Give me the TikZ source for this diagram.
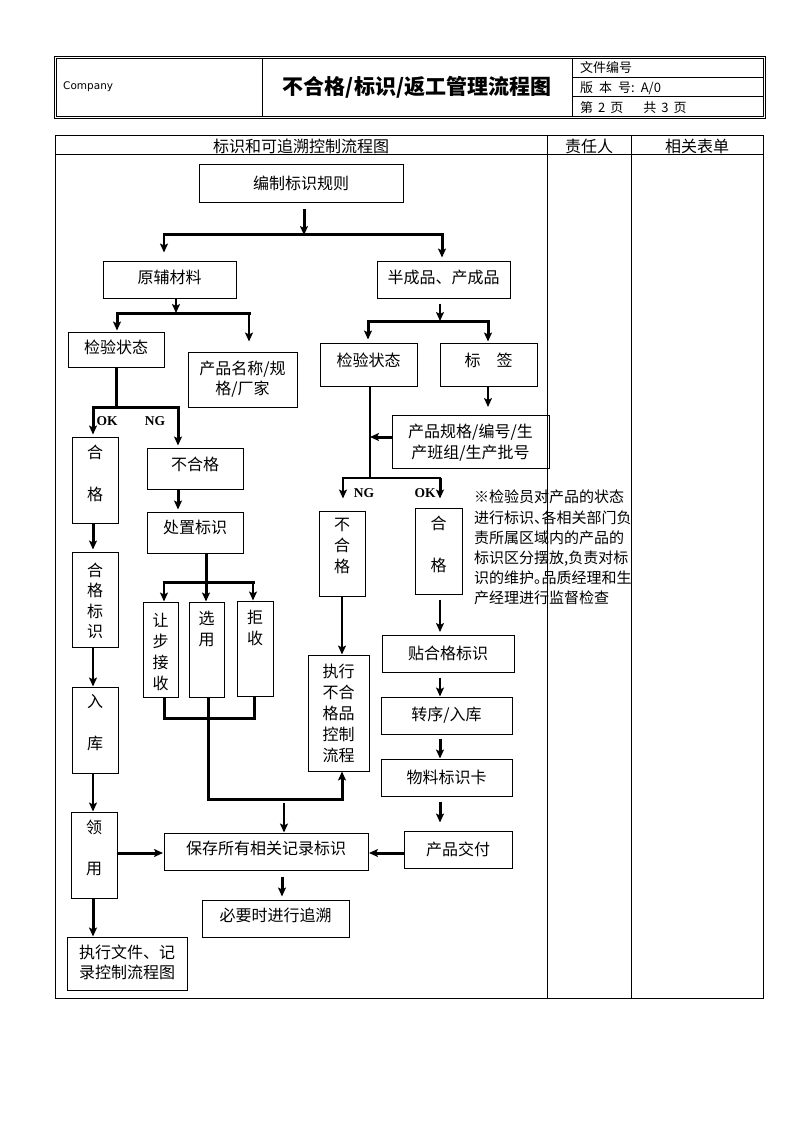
\documentclass[tikz,border=0pt]{standalone}
\usepackage{fontspec}
\setmainfont{Noto Sans CJK SC}
\newfontfamily\dvs{DejaVu Sans}
\newfontfamily\tnr{Liberation Serif}
\usetikzlibrary{arrows.meta,calc}
\newcommand\fs{\fontsize{16pt}{21pt}\selectfont}
\newcommand\flbox[7]{\node[box, minimum width={(#4-#2)*1pt}, minimum height={(#5-#3)*1pt}, label={[lab,yshift=-#6pt]north:{#7}}] (#1) at ({(#2+#4)/2},{(#3+#5)/2}) {};}
\tikzset{
 box/.style={draw, line width=1pt, inner sep=0pt},
 lab/.style={anchor=north, inner sep=0pt, align=center, font=\fs},
 w3/.style={line width=3pt},
 w2/.style={line width=1.9pt},
 arr/.style={-{Stealth[length=9pt,width=8pt,inset=2pt]}},
 hl/.style={line cap=rect},
 okng/.style={font=\tnr\bfseries\fontsize{13.5pt}{14pt}\selectfont, inner sep=0pt},
 hd/.style={font=\fontsize{13pt}{15pt}\selectfont, inner sep=0pt, anchor=west},
 th/.style={font=\fs, inner sep=0pt},
 tbl/.style={line width=1pt},
}
\begin{document}
\begin{tikzpicture}[x=1pt,y=-1pt]
\fill[white] (0,0) rectangle (794,1123);
\useasboundingbox (0,0) rectangle (794,1123);

% ---------- header ----------
\draw[tbl] (54,57) rectangle (765,119);
\draw[tbl] (56,59) rectangle (763,117);
\draw[tbl] (262,59) -- (262,117);
\draw[tbl] (572,59) -- (572,117);
\draw[tbl] (572,78) -- (763,78);
\draw[tbl] (572,97) -- (763,97);
\node[anchor=west, font=\dvs\fontsize{10.5pt}{12pt}\selectfont, inner sep=0pt] (company) at (63,87) {Company};
\node[font=\bfseries\fontsize{21pt}{24pt}\selectfont, inner sep=0pt] (title) at (417,87) {不合格/标识/返工管理流程图};
\node[hd] (docno) at (580,68) {文件编号};
\node[hd] (ver) at (580,88) {版\hspace{6pt}本\hspace{6pt}号:\hspace{6pt}A/0};
\node[hd] (page) at (580,108) {第\hspace{5pt}2\hspace{5pt}页\hspace{20pt}共\hspace{5pt}3\hspace{5pt}页};

% ---------- table ----------
\draw[tbl] (55,136) rectangle (763,998);
\draw[tbl] (55,155) -- (763,155);
\draw[tbl] (547,136) -- (547,998);
\draw[tbl] (631,136) -- (631,998);
\node[th] (th1) at (301,146) {标识和可追溯控制流程图};
\node[th] (th2) at (589,146) {责任人};
\node[th] (th3) at (697,146) {相关表单};

% ---------- boxes ----------
\flbox{rule}{199}{165}{403}{203}{11}{编制标识规则}
\flbox{raw}{103}{261}{236}{298}{9}{原辅材料}
\flbox{semi}{377}{261}{510}{298}{9}{半成品、产成品}
\flbox{insL}{68}{332}{164}{367}{8}{检验状态}
\flbox{name}{188}{352}{297}{407}{9}{产品名称/规\\[-1pt]格/厂家}
\flbox{insR}{320}{343}{417}{386}{10}{检验状态}
\flbox{tag}{440}{343}{537}{386}{10}{标\hspace{16pt}签}
\flbox{spec}{392}{415}{549}{468}{9}{产品规格/编号/生\\产班组/生产批号}
\flbox{okL}{72}{437}{118}{523}{8}{合\\[21pt]格}
\flbox{ngL}{147}{448}{243}{489}{9}{不合格}
\flbox{disp}{147}{512}{243}{553}{8}{处置标识}
\flbox{okLmark}{72}{552}{118}{647}{11}{合\\[-0.5pt]格\\[-0.5pt]标\\[-0.5pt]识}
\flbox{concede}{143}{602}{178}{697}{11}{让\\步\\接\\收}
\flbox{select}{189}{602}{224}{697}{9}{选\\用}
\flbox{reject}{237}{601}{273}{696}{9}{拒\\收}
\flbox{store}{72}{687}{118}{773}{8}{入\\[21pt]库}
\flbox{ngR}{319}{511}{365}{596}{7}{不\\合\\格}
\flbox{okR}{415}{508}{462}{594}{8}{合\\[21pt]格}
\flbox{exec}{308}{655}{369}{771}{9}{执行\\不合\\格品\\控制\\流程}
\flbox{stick}{382}{635}{514}{672}{11}{贴合格标识}
\flbox{trans}{381}{697}{512}{734}{10}{转序/入库}
\flbox{card}{381}{759}{512}{796}{11}{物料标识卡}
\flbox{deliver}{404}{831}{512}{868}{11}{产品交付}
\flbox{save}{164}{833}{368}{870}{8}{保存所有相关记录标识}
\flbox{trace}{202}{900}{349}{937}{8}{必要时进行追溯}
\flbox{use}{71}{812}{117}{898}{8}{领\\[20pt]用}
\flbox{docs}{67}{937}{187}{990}{8}{执行文件、记\\[-1pt]录控制流程图}

\node[anchor=north west, inner sep=0pt, align=left, font=\fontsize{15pt}{20.2pt}\selectfont] (note) at (474,490) {※检验员对产品的状态\\进行标识\makebox[7.5pt][l]{、}各相关部门负\\责所属区域内的产品的\\标识区分摆放,负责对标\\识的维护\makebox[7.5pt][l]{。}品质经理和生\\产经理进行监督检查};

% ---------- OK / NG ----------
\node[okng] (ok1) at (107,421) {OK};
\node[okng] (ng1) at (155,421) {NG};
\node[okng] (ng2) at (364,493) {NG};
\node[okng] (ok2) at (425,493) {OK};

% ---------- coordinates ----------
\coordinate (j1) at (304,235);
\coordinate (hL) at (164,235);
\coordinate (hR) at (442,235);
\coordinate (j2) at (176,313);
\coordinate (j2L) at (117,313);
\coordinate (j2R) at (249,313);
\coordinate (j3) at (440,321);
\coordinate (j3L) at (368,321);
\coordinate (j3R) at (488,321);
\coordinate (j4) at (370,478);
\coordinate (j4L) at (343,478);
\coordinate (j4R) at (440,478);
\coordinate (k1) at (488,407);
\coordinate (k2) at (370,437);
\coordinate (j5) at (116,407);
\coordinate (j5L) at (93,407);
\coordinate (j5R) at (178,407);
\coordinate (j6) at (206,582);
\coordinate (j6L) at (164,582);
\coordinate (j6R) at (253,582);
\coordinate (j7L) at (164,718);
\coordinate (j7R) at (254,718);
\coordinate (j8) at (208,799);
\coordinate (j8R) at (342,799);
\coordinate (k3) at (163,853);
\coordinate (k4) at (369,853);
\coordinate (k5) at (440,632);
\coordinate (k6) at (284,803);
\coordinate (k7) at (282,876);
\coordinate (k8) at (93,898);

% ---------- connectors ----------
\draw[w3,arr,shorten <=6pt] (rule.south -| j1) -- (j1);
\draw[w3,hl] (hL) -- (hR);
\draw[w2,arr,shorten >=8pt] (hL) -- (raw.north -| hL);
\draw[w3,arr,shorten >=3pt] (hR) -- (semi.north -| hR);

\draw[w2,arr] (raw.south -| j2) -- (j2);
\draw[w3,hl] (j2L) -- (j2R);
\draw[w3,arr,shorten >=1pt] (j2L) -- (insL.north -| j2L);
\draw[w2,arr,shorten >=10pt] (j2R) -- (name.north -| j2R);

\draw[w2,arr,shorten <=5pt] (semi.south -| j3) -- (j3);
\draw[w3,hl] (j3L) -- (j3R);
\draw[w3,arr,shorten >=3pt] (j3L) -- (insR.north -| j3L);
\draw[w3,arr,shorten >=1pt] (j3R) -- (tag.north -| j3R);

\draw[w2,arr] (tag.south -| k1) -- (k1);
\draw[w2] (insR.south -| j4) -- (j4);
\draw[w3,arr] (spec.west |- k2) -- (k2);
\draw[w2,hl] (j4L) -- (j4R);
\draw[w2,arr,shorten >=12pt] (j4L) -- (ngR.north -| j4L);
\draw[w3,arr,shorten >=9pt] (j4R) -- (okR.north -| j4R);

\draw[w3] (insL.south -| j5) -- (j5);
\draw[w3,hl] (j5L) -- (j5R);
\draw[w3,arr,shorten >=2pt] (j5L) -- (okL.north -| j5L);
\draw[w3,arr,shorten >=2pt] (j5R) -- (ngL.north -| j5R);

\draw[w3,arr,shorten >=2pt] (okL.south -| j5L) -- (okLmark.north -| j5L);
\draw[w2,arr] (okLmark.south -| j5L) -- (store.north -| j5L);
\draw[w2,arr] (store.south -| j5L) -- (use.north -| j5L);
\draw[w3,arr] (use.south -| k8) -- (docs.north -| k8);
\draw[w3,arr] (use.east |- k3) -- (k3);
\draw[w3,arr] (deliver.west |- k4) -- (k4);

\draw[w3,arr,shorten >=2pt] (ngL.south -| j5R) -- (disp.north -| j5R);
\draw[w3] (disp.south -| j6) -- (j6);
\draw[w3,hl] (j6L) -- (j6R);
\draw[w2,arr] (j6L) -- (concede.north -| j6L);
\draw[w3,arr] (j6) -- (select.north -| j6);
\draw[w2,arr] (j6R) -- (reject.north -| j6R);
\draw[w3] (concede.south -| j7L) -- (j7L) -- (j7R) -- (reject.south -| j7R);
\draw[w3,arr] (select.south -| j8) -- (j8) -- (j8R) -- (exec.south -| j8R);

\draw[w2,arr] (ngR.south) -- (exec.north -| ngR.south);
\draw[w2,arr,shorten <=5pt] (okR.south -| k5) -- (k5);
\draw[w2,arr,shorten <=5pt] (stick.south -| k5) -- (trans.north -| k5);
\draw[w3,arr,shorten <=4pt] (trans.south -| k5) -- (card.north -| k5);
\draw[w3,arr,shorten <=5pt,shorten >=8pt] (card.south -| k5) -- (deliver.north -| k5);
\draw[w2,arr] (k6) -- (save.north -| k6);
\draw[w3,arr,shorten <=6pt,shorten >=3pt] (save.south -| k7) -- (trace.north -| k7);
\end{tikzpicture}
\end{document}
